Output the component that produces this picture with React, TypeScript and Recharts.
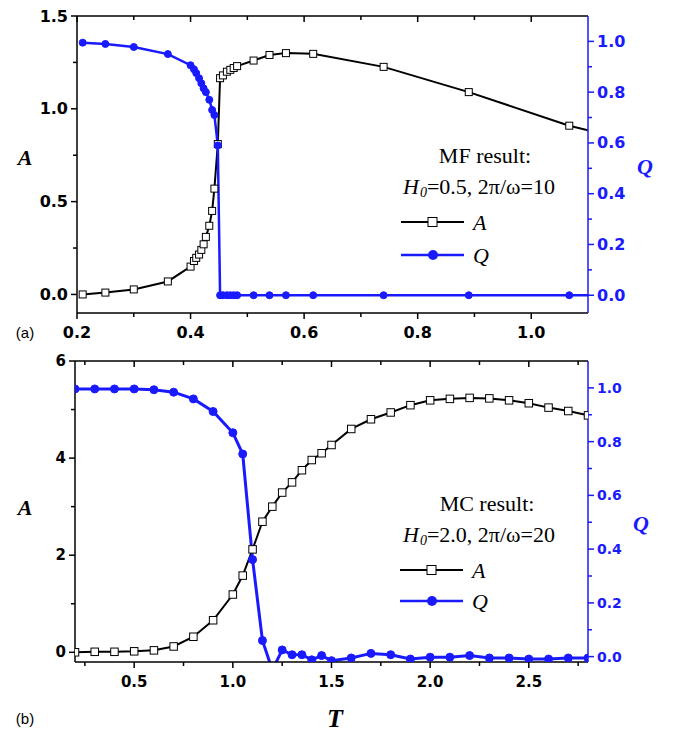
import { LineChart, Line, XAxis, YAxis } from "recharts";

const BLUE = "#1a1aff";

// (a) mean-field result, H0=0.5, 2pi/omega=10
const mfT = [0.21, 0.25, 0.3, 0.36, 0.4, 0.406, 0.41, 0.415, 0.419, 0.423, 0.427, 0.433, 0.438, 0.442, 0.448, 0.452, 0.457, 0.464, 0.47, 0.476, 0.482, 0.511, 0.539, 0.568, 0.616, 0.74, 0.89, 1.067, 1.1];
const mfA = [0.0, 0.01, 0.027, 0.07, 0.15, 0.18, 0.197, 0.215, 0.24, 0.27, 0.31, 0.37, 0.45, 0.57, 0.81, 1.165, 1.18, 1.2, 1.21, 1.22, 1.23, 1.26, 1.29, 1.3, 1.296, 1.226, 1.09, 0.909, 0.885];
const mfQ = [0.995, 0.99, 0.978, 0.95, 0.906, 0.89, 0.875, 0.855, 0.835, 0.815, 0.8, 0.77, 0.73, 0.71, 0.59, 0, 0, 0, 0, 0, 0, 0, 0, 0, 0, 0, 0, 0, 0];

// (b) Monte Carlo result, H0=2.0, 2pi/omega=20
const mcT = [0.2, 0.3, 0.4, 0.5, 0.6, 0.7, 0.8, 0.9, 1.0, 1.05, 1.1, 1.15, 1.2, 1.25, 1.3, 1.35, 1.4, 1.45, 1.5, 1.6, 1.7, 1.8, 1.9, 2.0, 2.1, 2.2, 2.3, 2.4, 2.5, 2.6, 2.7, 2.8];
const mcA = [0, 0.01, 0.01, 0.02, 0.04, 0.12, 0.32, 0.66, 1.19, 1.58, 2.12, 2.69, 3.0, 3.29, 3.5, 3.75, 3.96, 4.1, 4.27, 4.6, 4.8, 4.94, 5.09, 5.19, 5.22, 5.24, 5.23, 5.19, 5.13, 5.04, 4.97, 4.88];
const mcQ = [0.996, 0.996, 0.996, 0.996, 0.993, 0.984, 0.959, 0.912, 0.833, 0.754, 0.361, 0.06, -0.05, 0.025, 0.007, 0.007, -0.012, 0.004, -0.015, -0.005, 0.012, 0.007, -0.009, -0.002, -0.002, 0.004, -0.005, -0.005, -0.009, -0.009, -0.005, -0.005];

// ticks (all) and the labelled ones
const mfTTicks = [0.2, 0.3, 0.4, 0.5, 0.6, 0.7, 0.8, 0.9, 1.0];
const mfTLabels = [0.2, 0.4, 0.6, 0.8, 1.0];
const mfATicks = [0, 0.25, 0.5, 0.75, 1.0, 1.25, 1.5];
const mfALabels = [0, 0.5, 1.0, 1.5];
const qTicks = [0, 0.1, 0.2, 0.3, 0.4, 0.5, 0.6, 0.7, 0.8, 0.9, 1.0];
const qLabels = [0, 0.2, 0.4, 0.6, 0.8, 1.0];
const mcTTicks = [0.25, 0.5, 0.75, 1.0, 1.25, 1.5, 1.75, 2.0, 2.25, 2.5, 2.75];
const mcTLabels = [0.5, 1.0, 1.5, 2.0, 2.5];
const mcATicks = [0, 1, 2, 3, 4, 5, 6];
const mcALabels = [0, 2, 4, 6];

const mfRows = mfT.map((t, i) => ({ T: t, A: mfA[i], Q: mfQ[i] }));
const mcRows = mcT.map((t, i) => ({ T: t, A: mcA[i], Q: mcQ[i] }));

const SANS = "'Liberation Sans', Arial, sans-serif";
const TICKFONT = "'DejaVu Sans', Verdana, sans-serif";
const SERIF = "'Liberation Serif', 'Times New Roman', serif";

type Side = "left" | "right" | "bottom" | "top";

function makeTick(side: Side, labels: number[], digits: number, color: string, size: number, gap: number) {
  return (props: any) => {
    const { x, y, payload, index } = props;
    const v = payload.value;
    const major = labels.some((m) => Math.abs(m - v) < 1e-6);
    const len = major ? 6 : 4;
    const txt = major ? Number(v).toFixed(digits) : "";
    const common = { fill: color, fontFamily: TICKFONT, fontWeight: 700, fontSize: size };
    if (side === "left") {
      return (
        <g key={`l${index}`}>
          <line x1={x - len} y1={y} x2={x} y2={y} stroke={color} strokeWidth={1.5} />
          {txt && <text x={x - gap} y={y} textAnchor="end" dominantBaseline="central" {...common}>{txt}</text>}
        </g>
      );
    }
    if (side === "right") {
      return (
        <g key={`r${index}`}>
          <line x1={x} y1={y} x2={x + len} y2={y} stroke={color} strokeWidth={1.5} />
          {txt && <text x={x + gap} y={y} textAnchor="start" dominantBaseline="central" {...common}>{txt}</text>}
        </g>
      );
    }
    if (side === "bottom") {
      return (
        <g key={`b${index}`}>
          <line x1={x} y1={y} x2={x} y2={y + len} stroke={color} strokeWidth={1.5} />
          {txt && <text x={x} y={y + gap} textAnchor="middle" dominantBaseline="central" {...common}>{txt}</text>}
        </g>
      );
    }
    return (
      <g key={`t${index}`}>
        <line x1={x} y1={y} x2={x} y2={y + len} stroke={color} strokeWidth={1.5} />
      </g>
    );
  };
}

function squareDot(skipT: number | null, s: number) {
  return (p: any) => {
    const { cx, cy, index, payload } = p;
    if (cx == null || cy == null || (skipT != null && Math.abs(payload.T - skipT) < 1e-9)) return <g key={`s${index}`} />;
    return <rect key={`s${index}`} x={cx - s / 2} y={cy - s / 2} width={s} height={s} fill="#fff" stroke="#000" strokeWidth={1} />;
  };
}

function circleDot(skipT: number | null, r: number) {
  return (p: any) => {
    const { cx, cy, index, payload } = p;
    if (cx == null || cy == null || (skipT != null && Math.abs(payload.T - skipT) < 1e-9)) return <g key={`c${index}`} />;
    return <circle key={`c${index}`} cx={cx} cy={cy} r={r} fill={BLUE} stroke={BLUE} strokeWidth={1} />;
  };
}

const blackAxis = { stroke: "#000", strokeWidth: 1.5 };
const blueAxis = { stroke: BLUE, strokeWidth: 1.5 };

function Panel(props: {
  rows: any[];
  height: number;
  margin: any;
  xDomain: number[];
  aDomain: number[];
  qDomain: number[];
  tTicks: number[];
  tLabels: number[];
  aTicks: number[];
  aLabels: number[];
  aDigits: number;
  topH: number;
  botH: number;
  xGap: number;
  fs: number;
  qfs: number;
  skipT: number | null;
  sq: number;
  cr: number;
  qw: number;
}) {
  const p = props;
  return (
    <LineChart width={673} height={p.height} data={p.rows} margin={p.margin}>
      <XAxis xAxisId="b" dataKey="T" type="number" orientation="bottom" domain={p.xDomain} allowDataOverflow ticks={p.tTicks} interval={0}
        tickLine={false} tickSize={0} tickMargin={0} axisLine={blackAxis} height={p.botH}
        tick={makeTick("bottom", p.tLabels, 1, "#000", p.fs, p.xGap)} />
      <XAxis xAxisId="t" dataKey="T" type="number" orientation="top" domain={p.xDomain} allowDataOverflow ticks={p.tTicks} interval={0}
        tickLine={false} tickSize={0} tickMargin={0} axisLine={blackAxis} height={p.topH}
        tick={makeTick("top", p.tLabels, 1, "#000", p.fs, 0)} />
      <YAxis yAxisId="l" type="number" domain={p.aDomain} allowDataOverflow ticks={p.aTicks} interval={0}
        tickLine={false} tickSize={0} tickMargin={0} axisLine={blackAxis} width={40}
        tick={makeTick("left", p.aLabels, p.aDigits, "#000", p.fs, 9)} />
      <YAxis yAxisId="r" orientation="right" type="number" domain={p.qDomain} allowDataOverflow ticks={qTicks} interval={0}
        tickLine={false} tickSize={0} tickMargin={0} axisLine={blueAxis} width={50}
        tick={makeTick("right", qLabels, 1, BLUE, p.qfs, 9)} />
      <Line xAxisId="b" yAxisId="l" dataKey="A" type="linear" stroke="#000" strokeWidth={2}
        dot={squareDot(p.skipT, p.sq)} activeDot={false} isAnimationActive={false} />
      <Line xAxisId="b" yAxisId="r" dataKey="Q" type="linear" stroke={BLUE} strokeWidth={p.qw}
        dot={circleDot(p.skipT, p.cr)} activeDot={false} isAnimationActive={false} />
    </LineChart>
  );
}

function LegendBlock(props: { cx: number; y0: number; title: string; h: string; lx: number; yA: number; yQ: number }) {
  const { cx, y0, title, h, lx, yA, yQ } = props;
  const t = { fontFamily: SERIF, fontSize: 22, fill: "#000" };
  return (
    <g>
      <text x={cx} y={y0} textAnchor="middle" dominantBaseline="central" {...t}>{title}</text>
      <text x={403} y={y0 + 31} dominantBaseline="central" {...t}>
        <tspan fontStyle="italic">H</tspan>
        <tspan fontStyle="italic" fontSize={14} dx={1} dy={6}>0</tspan>
        <tspan dy={-6}>{h}</tspan>
      </text>
      <line x1={lx} y1={yA} x2={lx + 63} y2={yA} stroke="#000" strokeWidth={2} />
      <rect x={lx + 27} y={yA - 4.5} width={9} height={9} fill="#fff" stroke="#000" strokeWidth={1} />
      <text x={lx + 72} y={yA} dominantBaseline="central" fontStyle="italic" {...t}>A</text>
      <line x1={lx} y1={yQ} x2={lx + 63} y2={yQ} stroke={BLUE} strokeWidth={2.5} />
      <circle cx={lx + 32} cy={yQ} r={5} fill={BLUE} />
      <text x={lx + 72} y={yQ} dominantBaseline="central" fontStyle="italic" {...t}>Q</text>
    </g>
  );
}

export default function App() {
  return (
    <div style={{ position: "absolute", left: 0, top: 0, width: 673, height: 734, background: "#fff" }}>
      <div style={{ position: "absolute", left: 0, top: 0 }}>
        <Panel rows={mfRows} height={340} margin={{ top: 0, right: 35, bottom: 0, left: 37 }}
          xDomain={[0.2, 1.1]} aDomain={[-0.1, 1.5]} qDomain={[-0.07, 1.1]}
          tTicks={mfTTicks} tLabels={mfTLabels} aTicks={mfATicks} aLabels={mfALabels} aDigits={1}
          topH={16} botH={27} xGap={19} fs={16} qfs={16} skipT={1.1} sq={7} cr={3.5} qw={2.5} />
      </div>
      <div style={{ position: "absolute", left: 0, top: 340 }}>
        <Panel rows={mcRows} height={394} margin={{ top: 0, right: 35, bottom: 42, left: 35 }}
          xDomain={[0.2, 2.8]} aDomain={[-0.2, 6]} qDomain={[-0.02, 1.1]}
          tTicks={mcTTicks} tLabels={mcTLabels} aTicks={mcATicks} aLabels={mcALabels} aDigits={0}
          topH={21} botH={30} xGap={20} fs={15} qfs={14} skipT={null} sq={7.5} cr={4} qw={3} />
      </div>
      <svg width={673} height={734} style={{ position: "absolute", left: 0, top: 0, pointerEvents: "none" }}>
        <text x={25} y={157} textAnchor="middle" dominantBaseline="central" fontFamily={SERIF} fontStyle="italic" fontWeight={700} fontSize={22}>A</text>
        <text x={645} y={166} textAnchor="middle" dominantBaseline="central" fontFamily={SERIF} fontStyle="italic" fontWeight={700} fontSize={22} fill={BLUE}>Q</text>
        <text x={25} y={332} textAnchor="middle" dominantBaseline="central" fontFamily={SANS} fontSize={15}>(a)</text>
        <LegendBlock cx={485} y0={155} title="MF result:" h="=0.5, 2π/ω=10" lx={401} yA={222} yQ={255} />

        <text x={25} y={507} textAnchor="middle" dominantBaseline="central" fontFamily={SERIF} fontStyle="italic" fontWeight={700} fontSize={22}>A</text>
        <text x={641} y={523} textAnchor="middle" dominantBaseline="central" fontFamily={SERIF} fontStyle="italic" fontWeight={700} fontSize={22} fill={BLUE}>Q</text>
        <text x={335} y={718} textAnchor="middle" dominantBaseline="central" fontFamily={SERIF} fontStyle="italic" fontWeight={700} fontSize={26}>T</text>
        <text x={25} y={718} textAnchor="middle" dominantBaseline="central" fontFamily={SANS} fontSize={15}>(b)</text>
        <LegendBlock cx={487} y0={503} title="MC result:" h="=2.0, 2π/ω=20" lx={400} yA={570} yQ={601} />
      </svg>
    </div>
  );
}
